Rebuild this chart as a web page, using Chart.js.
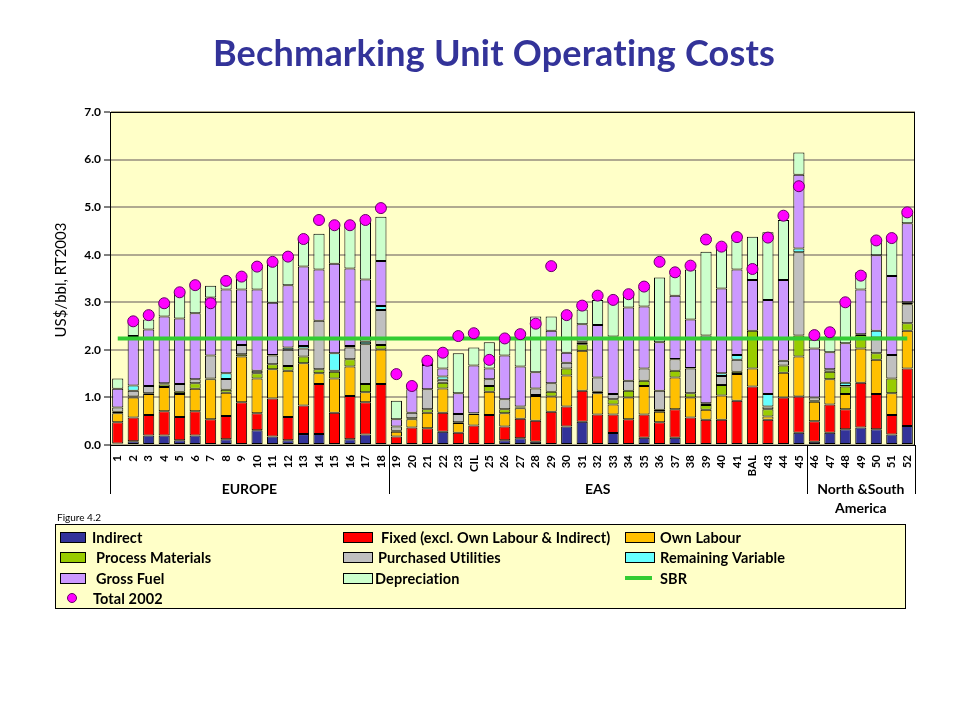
<!DOCTYPE html>
<html>
<head>
<meta charset="utf-8">
<script src="https://cdn.jsdelivr.net/npm/chart.js@4"></script>
<style>
  html, body { margin: 0; padding: 0; background: #fff; }
  canvas { display: block; }
</style>
</head>
<body>
<canvas id="costChart" width="960" height="720"></canvas>
<script>
const categories = ['1','2','3','4','5','6','7','8','9','10','11','12','13','14','15','16','17','18',
  '19','20','21','22','23','CIL','25','26','27','28','29','30','31','32','33','34','35','36','37','38','39','40','41','BAL','43','44','45',
  '46','47','48','49','50','51','52'];

const indirect = [0.03,0.08,0.20,0.20,0.10,0.20,0,0.12,0,0.31,0.18,0.10,0.23,0.23,0,0.12,0.22,0,
  0,0,0,0.28,0,0,0,0.10,0.14,0.07,0,0.39,0.49,0,0.25,0,0.15,0,0.15,0,0,0,0,0,0,0,0.26,
  0.07,0.26,0.33,0.37,0.33,0.22,0.40];
const fixedCost = [0.45,0.50,0.43,0.51,0.49,0.51,0.54,0.49,0.90,0.36,0.80,0.49,0.60,1.05,0.68,0.91,0.68,1.28,
  0.18,0.37,0.35,0.40,0.26,0.41,0.63,0.29,0.41,0.44,0.70,0.42,0.65,0.64,0.39,0.54,0.49,0.48,0.60,0.58,0.53,0.53,0.93,1.23,0.53,1.00,0.76,
  0.43,0.59,0.42,0.94,0.74,0.41,1.21];
const ownLabour = [0.19,0.42,0.44,0.51,0.48,0.47,0.84,0.49,0.96,0.73,0.61,0.97,0.89,0.23,0.72,0.62,0.21,0.73,
  0.10,0.17,0.33,0.51,0.20,0.24,0.49,0.28,0.22,0.52,0.32,0.65,0.84,0.45,0.21,0.46,0.60,0.22,0.67,0.42,0.21,0.51,0.56,0.38,0.07,0.52,0.84,
  0.41,0.53,0.32,0.72,0.72,0.46,0.79];
const processMaterials = [0.03,0.02,0.02,0.05,0.05,0.12,0.02,0.06,0.05,0.11,0.11,0.10,0.14,0.08,0.14,0.15,0.17,0.09,
  0.02,0.02,0.07,0.12,0.02,0.01,0.12,0.08,0.02,0.02,0.10,0.15,0.14,0.03,0.11,0.14,0.11,0.04,0.14,0.09,0.10,0.22,0.05,0.79,0.15,0.15,0.44,
  0.02,0.16,0.16,0.28,0.14,0.31,0.16];
const purchasedUtilities = [0.09,0.12,0.15,0.03,0.16,0.08,0.48,0.23,0.19,0.05,0.18,0.34,0.17,1.02,0.02,0.25,0.84,0.74,
  0.09,0.12,0.42,0.06,0.17,0.01,0.14,0.21,0.02,0.14,0.18,0.12,0.03,0.30,0.11,0.21,0.26,0.40,0.24,0.52,0.04,0.19,0.25,0,0.06,0.10,1.75,
  0.07,0.05,0.01,0.02,0.33,0.49,0.40];
const remainingVariable = [0,0.11,0,0,0,0,0,0.12,0,0,0.01,0.05,0.05,0,0.37,0.03,0.05,0.08,
  0,0,0,0.07,0,0,0,0,0,0,0,0,0.02,0,0,0,0,0,0.01,0.01,0,0.06,0.10,0,0.26,0,0.08,
  0,0,0.07,0,0.14,0,0.04];
const grossFuel = [0.39,1.04,1.19,1.40,1.38,1.39,1.22,1.76,1.17,1.71,1.10,1.31,1.67,1.08,1.88,1.63,1.31,0.95,
  0.15,0.49,0.51,0.17,0.44,1.00,0.23,0.92,0.84,0.34,1.10,0.21,0.37,1.10,1.21,1.54,1.30,1.02,1.33,1.02,1.42,1.78,1.80,1.07,1.98,1.70,1.55,
  1.03,0.36,0.83,0.94,1.59,1.66,1.66];
const depreciation = [0.22,0.29,0.21,0.28,0.55,0.59,0.25,0.15,0.22,0.46,0.84,0.59,0.57,0.75,0.78,0.87,1.24,0.93,
  0.39,0.03,0.07,0.30,0.84,0.38,0.55,0.35,0.58,1.17,0.30,0.77,0.31,0.53,0.73,0.28,0.40,1.36,0.43,1.05,1.76,0.87,0.63,0.91,1.42,1.26,0.47,
  0.18,0.33,0.84,0.36,0.33,0.79,0.22];
const total2002 = [null,2.60,2.73,2.98,3.21,3.36,2.98,3.45,3.54,3.75,3.85,3.96,4.33,4.73,4.62,4.62,4.73,4.98,
  1.49,1.24,1.77,1.94,2.29,2.35,1.79,2.24,2.33,2.55,3.76,2.73,2.93,3.14,3.05,3.17,3.33,3.85,3.63,3.77,4.32,4.17,4.37,3.70,4.36,4.82,5.44,
  2.31,2.37,3.00,3.56,4.30,4.35,4.89];
const sbrLevel = 2.24;

// regions: first and last category index of each group
const regionNames = [['EUROPE'], ['EAS'], ['North &South', 'America']];
const regionRanges = [[0, 17], [18, 44], [45, 51]];

const FONT = 'Lato, "Open Sans", sans-serif';
const plotBg = '#FFFFC8';

function barSet(label, data, color) {
  return {
    type: 'bar', label, data, stack: 'costs',
    backgroundColor: color, borderColor: '#000', borderWidth: 1, borderSkipped: false,
    barPercentage: 0.72, categoryPercentage: 1.0
  };
}

const barSeries = [
  barSet('Indirect', indirect, '#333399'),
  barSet('Fixed (excl. Own Labour & Indirect)', fixedCost, '#FF0000'),
  barSet('Own Labour', ownLabour, '#FFC000'),
  barSet('Process Materials', processMaterials, '#99CC00'),
  barSet('Purchased Utilities', purchasedUtilities, '#C0C0C0'),
  barSet('Remaining Variable', remainingVariable, '#66FFFF'),
  barSet('Gross Fuel', grossFuel, '#CC99FF'),
  barSet('Depreciation', depreciation, '#CCFFCC')
];

const decorPlugin = {
  id: 'decor',
  beforeDraw(chart) {
    const { ctx, chartArea: a } = chart;
    ctx.save();
    ctx.fillStyle = plotBg;
    ctx.fillRect(a.left, a.top, a.right - a.left, a.bottom - a.top);
    ctx.restore();
  },
  afterDraw(chart) {
    const { ctx, chartArea: a } = chart;
    const x = chart.scales.x;
    ctx.save();
    // plot frame
    ctx.strokeStyle = '#000';
    ctx.lineWidth = 1;
    ctx.strokeRect(a.left + 0.5, a.top + 0.5, a.right - a.left - 1, a.bottom - a.top);

    // title (tiny letter spacing keeps the "ti" ligature off)
    ctx.fillStyle = '#333399';
    ctx.font = 'bold 36px ' + FONT;
    ctx.letterSpacing = '0.2px';
    ctx.textAlign = 'center';
    ctx.textBaseline = 'middle';
    ctx.fillText('Bechmarking Unit Operating Costs', 494, 54);
    ctx.letterSpacing = '0px';

    // y axis title
    ctx.save();
    ctx.translate(61, 280);
    ctx.rotate(-Math.PI / 2);
    ctx.fillStyle = '#000';
    ctx.font = '15px ' + FONT;
    ctx.fillText('US$/bbl, RT2003', 0, 0);
    ctx.restore();

    // region separators and names
    const step = x.getPixelForValue(1) - x.getPixelForValue(0);
    ctx.strokeStyle = '#000';
    ctx.fillStyle = '#000';
    ctx.font = 'bold 14px ' + FONT;
    regionRanges.forEach((r, i) => {
      const left = x.getPixelForValue(r[0]) - step / 2;
      const right = x.getPixelForValue(r[1]) + step / 2;
      [left, right].forEach(px => {
        ctx.beginPath();
        ctx.moveTo(Math.round(px) + 0.5, a.bottom);
        ctx.lineTo(Math.round(px) + 0.5, 494);
        ctx.stroke();
      });
      regionNames[i].forEach((t, j) => ctx.fillText(t, (left + right) / 2, 489 + j * 19));
    });

    // legend
    ctx.font = '10px ' + FONT;
    ctx.textAlign = 'left';
    ctx.fillText('Figure 4.2', 57, 518);
    ctx.fillStyle = plotBg;
    ctx.fillRect(55, 524, 850, 84);
    ctx.strokeRect(55.5, 524.5, 850, 84);

    const cols = [60, 343, 625];
    const textX = [[92, 381, 660], [96, 378, 660], [96, 375, 660]];
    const rows = [537, 557, 578];
    ctx.font = 'bold 14.5px ' + FONT;
    ctx.letterSpacing = '0.1px';
    ctx.textBaseline = 'middle';
    barSeries.forEach((ds, i) => {
      const r = Math.floor(i / 3), c = i % 3;
      const sw = c === 0 ? 25 : 29;
      ctx.fillStyle = ds.backgroundColor;
      ctx.fillRect(cols[c], rows[r] - 5, sw, 10);
      ctx.strokeStyle = '#000';
      ctx.strokeRect(cols[c] + 0.5, rows[r] - 4.5, sw, 10);
      ctx.fillStyle = '#000';
      ctx.fillText(ds.label, textX[r][c], rows[r] + 1);
    });
    // SBR entry
    ctx.strokeStyle = '#33CC33';
    ctx.lineWidth = 4;
    ctx.beginPath();
    ctx.moveTo(625, 578);
    ctx.lineTo(652, 578);
    ctx.stroke();
    ctx.fillStyle = '#000';
    ctx.fillText('SBR', 660, 579);
    // Total 2002 entry
    ctx.lineWidth = 1;
    ctx.beginPath();
    ctx.arc(72, 598, 4.5, 0, Math.PI * 2);
    ctx.fillStyle = '#FF00FF';
    ctx.fill();
    ctx.strokeStyle = '#660066';
    ctx.stroke();
    ctx.fillStyle = '#000';
    ctx.fillText('Total 2002', 93, 599);
    ctx.restore();
  }
};

new Chart(document.getElementById('costChart'), {
  data: {
    labels: categories,
    datasets: [
      {
        type: 'line', label: 'Total 2002', data: total2002, stack: 'dots', order: -2,
        showLine: false, pointRadius: 5.5, pointBackgroundColor: '#FF00FF',
        pointBorderColor: '#660066', pointBorderWidth: 1
      },
      {
        type: 'line', label: 'SBR', data: categories.map(() => sbrLevel), stack: 'sbr', order: -1,
        borderColor: '#33CC33', borderWidth: 4, pointRadius: 0, fill: false
      },
      ...barSeries
    ]
  },
  options: {
    responsive: false,
    animation: false,
    layout: { padding: { left: 0, right: 45, top: 112, bottom: 0 } },
    plugins: { legend: { display: false }, tooltip: { enabled: false } },
    scales: {
      x: {
        stacked: true,
        grid: { display: false },
        border: { display: false },
        ticks: {
          autoSkip: false, maxRotation: 90, minRotation: 90, padding: 2,
          color: '#000', font: { family: FONT, weight: 'bold', size: 11.5 }
        },
        afterFit(scale) { scale.height = 275; }
      },
      y: {
        stacked: true,
        min: 0, max: 7,
        ticks: {
          stepSize: 1, padding: 3, color: '#000',
          font: { family: FONT, weight: 'bold', size: 12 },
          callback: v => v.toFixed(1)
        },
        grid: { color: '#B0AA90', lineWidth: 2, tickLength: 6, tickColor: '#000', tickWidth: 1 },
        border: { display: true, color: '#000' },
        afterFit(scale) { scale.width = 110; }
      }
    }
  },
  plugins: [decorPlugin]
});
</script>
</body>
</html>
